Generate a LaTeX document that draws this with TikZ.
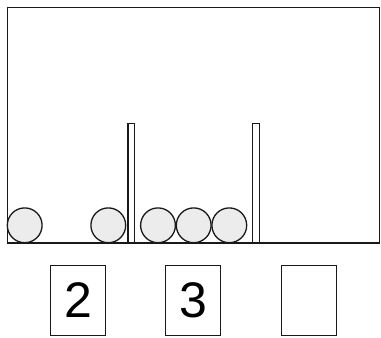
\documentclass[tikz,border=0pt]{standalone}
\usepackage{fontspec}
\setmainfont{Liberation Sans}
\usetikzlibrary{positioning}
\definecolor{cBall}{RGB}{235,236,235}
\definecolor{cLine}{RGB}{25,25,25}

\begin{document}
\begin{tikzpicture}[x=1pt, y=-1pt,
  ball/.style={fill=cBall, draw=cLine, line width=1.3pt},
  wall/.style={fill=white, draw=cLine, line width=1.3pt},
  card/.style={draw=cLine, line width=1pt, minimum width=55pt, minimum height=70pt,
    inner sep=0pt, font=\fontsize{50}{50}\selectfont}]
  \useasboundingbox (0,0) rectangle (381,338);
  % container
  \draw[cLine, line width=1.5pt] (7.5,7.5) rectangle (379.5,243);
  % walls
  \filldraw[wall] (128,123.3) rectangle (134.6,243);
  \filldraw[wall] (252.7,123.3) rectangle (259.3,243);
  % balls
  \foreach \x in {24.7,108.3,158,193.7,229.3}
    \filldraw[ball] (\x,225.3) circle (17.4pt);
  % cards
  \node[card] (c2) at (78,300.5) {2};
  \node[card] (c3) at (193.3,300.5) {3};
  \node[card] (cE) at (308.7,300.5) {};
\end{tikzpicture}
\end{document}
